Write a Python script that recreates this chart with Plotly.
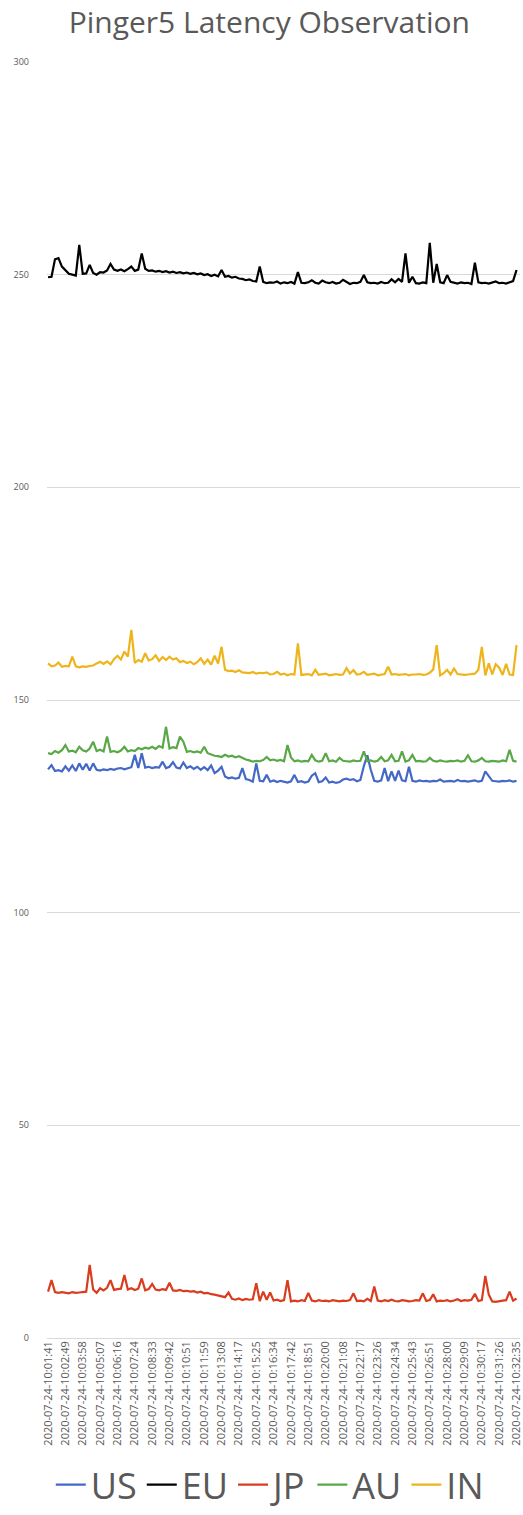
import plotly.graph_objects as go

tick_labels = [
    "2020-07-24-10:01:41", "2020-07-24-10:02:49", "2020-07-24-10:03:58", "2020-07-24-10:05:07",
    "2020-07-24-10:06:16", "2020-07-24-10:07:24", "2020-07-24-10:08:33", "2020-07-24-10:09:42",
    "2020-07-24-10:10:51", "2020-07-24-10:11:59", "2020-07-24-10:13:08", "2020-07-24-10:14:17",
    "2020-07-24-10:15:25", "2020-07-24-10:16:34", "2020-07-24-10:17:42", "2020-07-24-10:18:51",
    "2020-07-24-10:20:00", "2020-07-24-10:21:08", "2020-07-24-10:22:17", "2020-07-24-10:23:26",
    "2020-07-24-10:24:34", "2020-07-24-10:25:43", "2020-07-24-10:26:51", "2020-07-24-10:28:00",
    "2020-07-24-10:29:09", "2020-07-24-10:30:17", "2020-07-24-10:31:26", "2020-07-24-10:32:35",
]
label_step = 5  # one tick label every 5 samples

us = [
    133.7, 134.7, 133.3, 133.5, 133.2, 134.4, 133.4, 134.6, 133.3, 135.1,
    133.6, 135.0, 133.4, 135.1, 133.6, 133.4, 133.7, 133.5, 133.8, 133.6,
    133.9, 134.0, 133.7, 133.9, 134.2, 137.1, 134.0, 137.5, 134.1, 134.3,
    134.0, 134.2, 134.1, 135.5, 134.0, 134.3, 135.4, 134.1, 133.9, 135.3,
    134.0, 134.4, 133.8, 134.3, 133.6, 134.2, 133.5, 134.6, 132.8, 133.4,
    134.3, 132.0, 131.6, 131.8, 131.5, 131.7, 134.0, 131.4, 131.2, 130.8,
    135.1, 131.0, 130.9, 132.4, 130.8, 131.1, 130.7, 131.0, 130.8, 130.6,
    130.9, 132.4, 130.7, 130.9, 130.6, 130.8, 132.2, 132.8, 130.7, 130.9,
    131.8, 130.6, 130.8, 130.5, 130.7, 131.3, 131.5, 131.2, 131.4, 130.9,
    131.2, 134.5, 137.0, 133.6, 131.0, 130.8, 131.1, 134.0, 130.9, 133.2,
    131.0, 133.4, 131.1, 130.9, 134.3, 131.0, 130.8, 131.1, 130.9, 131.0,
    130.8, 131.0, 130.9, 131.3, 130.8, 130.9, 131.0, 130.8, 131.2, 130.9,
    131.0, 130.8, 130.9, 131.1, 130.8, 131.0, 133.2, 132.2, 131.0, 130.9,
    130.8, 131.0, 130.9, 131.1, 130.8, 131.0,
]

eu = [
    249.4, 249.5, 253.6, 253.9, 251.9, 251.0, 250.2, 250.0, 249.8, 257.0,
    250.2, 250.3, 252.3, 250.4, 250.0, 250.6, 250.5, 251.0, 252.5, 251.2,
    250.9, 251.2, 250.8, 251.3, 251.9, 250.9, 251.2, 255.0, 251.4, 250.9,
    251.0, 250.7, 250.9, 250.6, 250.8, 250.5, 250.7, 250.4, 250.6, 250.3,
    250.5, 250.2, 250.4, 250.1, 250.3, 249.9, 250.1, 249.7, 250.0, 249.6,
    251.1, 249.5, 249.7, 249.3, 249.5, 249.1, 249.0, 248.7, 248.9, 248.5,
    248.4, 251.9, 248.3, 248.0, 248.2, 248.1, 248.4, 247.9, 248.2, 248.0,
    248.3, 247.9, 250.6, 248.1, 248.0, 248.2, 248.7, 248.1, 247.9, 248.6,
    248.2, 248.0, 248.3, 247.9, 248.1, 248.8, 248.2, 247.8, 248.1, 248.0,
    248.3, 249.9, 248.2, 248.0, 248.1, 247.9, 248.3, 248.0, 248.1, 248.9,
    248.2, 249.0, 248.3, 255.0, 248.1, 249.5, 248.0, 247.9, 248.2, 248.0,
    257.5, 248.1, 252.5, 248.2, 248.0, 249.9, 248.3, 248.1, 247.9, 248.2,
    248.0, 248.1, 247.8, 252.8, 248.2, 248.0, 248.1, 247.9, 248.2, 248.4,
    248.0, 248.1, 247.9, 248.2, 248.5, 251.1,
]

jp = [
    10.9, 13.6, 10.8, 10.6, 10.8, 10.7, 10.5, 10.8, 10.6, 10.7,
    10.8, 10.9, 17.2, 11.4, 10.6, 11.7, 11.2, 11.8, 13.6, 11.3,
    11.5, 11.6, 14.8, 11.4, 11.7, 11.3, 11.6, 14.0, 11.2, 11.5,
    12.7, 11.4, 11.2, 11.5, 11.3, 13.0, 11.2, 11.1, 11.3, 11.0,
    11.1, 10.9, 11.0, 10.7, 10.9, 10.5, 10.6, 10.3, 10.2, 10.0,
    9.8, 9.6, 10.7, 9.2, 9.0, 9.3, 8.9, 9.2, 9.0, 9.1,
    12.9, 8.7, 10.9, 9.0, 10.7, 8.8, 9.0, 8.7, 8.9, 13.6,
    8.6, 8.8, 8.6, 8.9, 8.7, 10.6, 8.8, 8.6, 8.9, 8.7,
    8.8, 8.6, 8.9, 8.7, 8.6, 8.8, 8.7, 8.9, 10.5, 8.7,
    8.8, 8.6, 9.2, 8.7, 12.1, 8.8, 8.6, 8.9, 8.7, 9.0,
    8.7, 8.6, 8.9, 8.8, 8.6, 8.7, 8.9, 8.8, 10.5, 8.7,
    8.9, 10.3, 8.6, 8.8, 8.7, 8.9, 8.6, 8.8, 9.1, 8.7,
    8.9, 8.8, 9.0, 10.4, 8.7, 8.9, 14.6, 10.2, 8.6, 8.5,
    8.7, 8.8, 8.9, 10.9, 8.8, 9.3,
]

au = [
    137.5, 137.3, 138.0, 137.6, 138.2, 139.4, 137.9, 138.1, 137.7, 139.0,
    138.2, 137.9, 138.6, 140.2, 138.0, 138.3, 137.9, 141.4, 137.8, 138.0,
    137.7, 138.1, 139.0, 137.9, 138.2, 138.0, 138.7, 138.4, 138.8, 138.6,
    139.0, 138.5, 139.2, 138.8, 143.7, 138.6, 138.9, 138.7, 141.4, 140.2,
    137.8, 138.0, 137.7, 137.9, 137.6, 139.0, 137.5, 137.2, 136.9, 136.8,
    136.6, 137.1, 136.7, 136.9, 136.5, 136.8, 136.3, 136.0, 135.8, 135.5,
    135.7, 135.6, 135.9, 136.6, 135.8, 136.0, 135.7, 135.9, 135.6, 139.4,
    136.5, 135.6, 135.8, 135.5, 135.7, 135.6, 137.1, 135.8, 135.5, 135.7,
    137.5, 135.6, 135.8, 135.5, 136.4, 135.7, 135.6, 135.5, 135.8, 135.6,
    135.7, 137.9, 135.6, 135.8, 135.5, 135.7, 136.6, 135.6, 135.8, 137.1,
    135.6, 135.7, 137.9, 135.5, 135.8, 137.1, 135.6, 135.7, 135.5, 135.6,
    136.4, 135.7, 135.5, 135.8, 135.6, 135.5, 135.7, 135.6, 135.8, 135.5,
    135.7, 137.0, 135.6, 135.5, 135.8, 136.4, 135.6, 135.5, 135.7, 135.6,
    135.5, 135.8, 135.6, 138.3, 135.7, 135.5,
]

in_ = [
    158.6, 157.9, 158.1, 158.8, 157.8, 158.0, 157.9, 160.2, 157.9, 157.7,
    157.9, 157.8, 158.0, 158.1, 158.6, 159.0, 158.5, 159.1, 158.4, 159.6,
    160.4, 159.5, 161.4, 160.2, 166.5, 158.7, 159.4, 159.0, 161.0, 159.3,
    159.6, 160.5, 159.2, 160.1, 159.4, 160.2, 159.5, 159.8, 158.9, 159.2,
    158.7, 159.0, 158.4, 158.9, 159.8, 158.5, 159.5, 158.3, 160.4, 158.6,
    162.5, 157.1, 156.8, 156.9, 156.6, 157.0, 156.5, 156.4, 156.3, 156.6,
    156.2, 156.4, 156.3, 156.5, 156.0, 156.1, 156.6, 156.0, 156.2, 155.8,
    156.1, 156.0, 163.3, 155.9, 156.0, 156.1, 155.8, 157.1, 155.9, 156.0,
    156.2, 155.8, 156.0, 156.1, 155.9, 156.0, 157.5, 156.2, 157.0, 156.0,
    156.1, 156.6, 155.9, 156.0, 156.2, 155.8, 156.0, 156.1, 157.8, 156.0,
    156.1, 155.9, 156.0, 156.1, 155.8, 156.0, 156.0, 156.1, 155.9, 156.0,
    156.4, 157.2, 162.9, 155.8, 156.3, 157.1, 156.0, 157.4, 156.1, 156.0,
    155.9, 156.0, 156.1, 156.2, 157.1, 162.5, 155.8, 158.6, 156.0, 158.4,
    157.6, 155.9, 158.5, 156.0, 155.9, 162.9,
]

series = [("US", us, "#4468C6"), ("EU", eu, "#000000"), ("JP", jp, "#D93C1E"),
          ("AU", au, "#58A845"), ("IN", in_, "#EDB51B")]

n = len(us)
x = list(range(n))
tickvals = [i * label_step for i in range(len(tick_labels))]

fig = go.Figure()
for name, vals, color in series:
    fig.add_trace(go.Scatter(x=x, y=vals, mode="lines", name=name,
                             line=dict(color=color, width=2.2)))

fig.update_layout(
    width=523, height=1515,
    paper_bgcolor="white", plot_bgcolor="white",
    margin=dict(l=47, r=3, t=62, b=177, autoexpand=False),
    title=dict(text="Pinger5 Latency Observation", x=0.47, xanchor="center",
               xref="paper", y=1 - 22 / 1515, yanchor="middle",
               font=dict(family="Open Sans", size=30, color="#595959")),
    font=dict(family="Open Sans", color="#595959"),
    showlegend=True,
    legend=dict(orientation="h", x=0.471, xanchor="center", y=-0.1385, yanchor="bottom",
                font=dict(size=36, color="#595959"), itemwidth=30,
                tracegroupgap=0, traceorder="normal"),
)
fig.update_xaxes(range=[-0.3, n - 1 + 1.0], tickmode="array", tickvals=tickvals,
                 ticktext=tick_labels, tickangle=-90, automargin=False,
                 ticklabeloverflow="allow",
                 tickfont=dict(size=11, color="#595959"),
                 showgrid=False, zeroline=False, showline=False, ticks="")
fig.update_yaxes(range=[0, 300], dtick=50, tickfont=dict(size=9, color="#595959"),
                 showgrid=True, gridcolor="#d9d9d9", gridwidth=1, automargin=False,
                 zeroline=True, zerolinecolor="#d9d9d9", zerolinewidth=1,
                 showline=False, ticks="", ticklabelstandoff=17)

fig.write_html("out.html", config={"displayModeBar": False},
               post_script="document.body.style.margin='0';document.body.style.overflow='hidden';")
